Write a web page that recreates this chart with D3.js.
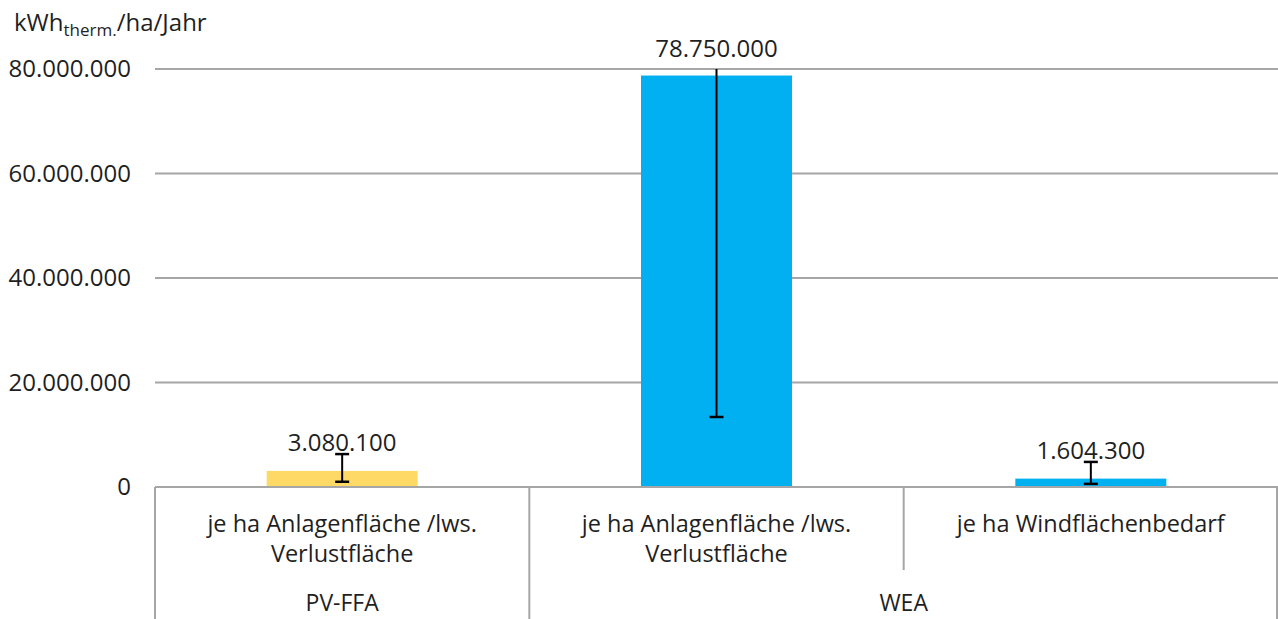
<!DOCTYPE html>
<html><head><meta charset="utf-8">
<script src="https://cdn.jsdelivr.net/npm/d3@7"></script>
<style>body{margin:0;background:#fff;} svg{display:block;font-family:"Open Sans",sans-serif;}</style>
</head><body>
<svg id="c" width="1278" height="619"></svg>
<script>
const groups = ["PV-FFA", "WEA"];
const categories = ["PV Anlagenfläche", "WEA Anlagenfläche", "WEA Windflächenbedarf"];
const categoryLabels = [["je ha Anlagenfläche /lws.", "Verlustfläche"], ["je ha Anlagenfläche /lws.", "Verlustfläche"], ["je ha Windflächenbedarf"]];
const categoryGroup = ["PV-FFA", "WEA", "WEA"];
const values = [3080100, 78750000, 1604300];
const errLow = [1000000, 13400000, 600000];
const errHigh = [6300000, 144100000, 4800000];
const valueLabels = ["3.080.100", "78.750.000", "1.604.300"];
const colors = ["#FFD966", "#00B0F0", "#00B0F0"];
const yTicks = [0, 20000000, 40000000, 60000000, 80000000];
const yTickLabels = ["0", "20.000.000", "40.000.000", "60.000.000", "80.000.000"];

const svg = d3.select("#c");
const pL = 155, pR = 1278, pT = 69, pB = 487;
const x = d3.scaleBand().domain(categories).range([pL, pR]).paddingInner(0).paddingOuter(0);
const y = d3.scaleLinear().domain([0, 80000000]).range([pB, pT]);
const barW = 151;
const grey = "#A6A6A6";
const txt = "#1f1f1f";

// gridlines
svg.append("g").selectAll("line").data(yTicks.filter(d => d > 0)).join("line")
  .attr("x1", pL).attr("x2", pR).attr("y1", d => y(d)).attr("y2", d => y(d))
  .attr("stroke", grey).attr("stroke-width", 2);

// y axis labels
const yAxis = d3.axisLeft(y).tickValues(yTicks).tickSize(0).tickPadding(0)
  .tickFormat((d, i) => yTickLabels[i]);
const ya = svg.append("g").attr("transform", "translate(131,0)").call(yAxis);
ya.select(".domain").remove();
ya.selectAll("text").attr("font-size", 24).attr("fill", txt).attr("font-family", "Open Sans");

// title
const t = svg.append("text").attr("x", 14).attr("y", 31).attr("font-size", 24).attr("fill", txt);
t.append("tspan").text("kWh");
t.append("tspan").attr("font-size", 17).attr("dy", 5).text("therm.");
t.append("tspan").attr("dy", -5).text("/ha/Jahr");

// clip
svg.append("clipPath").attr("id", "pa").append("rect")
  .attr("x", pL).attr("y", pT).attr("width", pR - pL).attr("height", pB - pT);

// bars
svg.append("g").selectAll("rect").data(categories).join("rect")
  .attr("x", d => x(d) + x.bandwidth() / 2 - barW / 2)
  .attr("width", barW)
  .attr("y", (d, i) => y(values[i]))
  .attr("height", (d, i) => pB - y(values[i]))
  .attr("fill", (d, i) => colors[i]);

// error bars
const eg = svg.append("g").attr("clip-path", "url(#pa)");
categories.forEach((c, i) => {
  const cx = x(c) + x.bandwidth() / 2;
  eg.append("line").attr("x1", cx).attr("x2", cx).attr("y1", y(errLow[i])).attr("y2", y(errHigh[i]))
    .attr("stroke", "#000").attr("stroke-width", 2);
  [errLow[i], errHigh[i]].forEach(v => {
    eg.append("line").attr("x1", cx - 7).attr("x2", cx + 7).attr("y1", y(v)).attr("y2", y(v))
      .attr("stroke", "#000").attr("stroke-width", 2.5);
  });
});

// value labels
svg.append("g").selectAll("text").data(categories).join("text")
  .attr("x", d => x(d) + x.bandwidth() / 2)
  .attr("y", (d, i) => i === 1 ? 57 : y(values[i]) - 20)
  .attr("text-anchor", "middle").attr("font-size", 24).attr("fill", txt)
  .text((d, i) => valueLabels[i]);

// category axis
svg.append("line").attr("x1", pL).attr("x2", pR).attr("y1", pB).attr("y2", pB)
  .attr("stroke", grey).attr("stroke-width", 2);
const bounds = [pL, x(categories[1]), x(categories[2]), pR - 1];
bounds.forEach((b, i) => {
  const full = i !== 2;
  svg.append("line").attr("x1", b).attr("x2", b).attr("y1", pB).attr("y2", full ? 619 : 570)
    .attr("stroke", grey).attr("stroke-width", 2);
});
const cg = svg.append("g");
categories.forEach((c, i) => {
  const cx = x(c) + x.bandwidth() / 2;
  categoryLabels[i].forEach((line, j) => {
    cg.append("text").attr("x", cx).attr("y", 532 + j * 30).attr("text-anchor", "middle")
      .attr("font-size", 23.5).attr("fill", txt).text(line);
  });
});
groups.forEach(g => {
  const idx = categories.map((c, i) => i).filter(i => categoryGroup[i] === g);
  const x0 = x(categories[idx[0]]), x1 = x(categories[idx[idx.length - 1]]) + x.bandwidth();
  svg.append("text").attr("x", (x0 + x1) / 2).attr("y", 611).attr("text-anchor", "middle")
    .attr("font-size", 23).attr("fill", txt).text(g);
});
</script>
</body></html>
